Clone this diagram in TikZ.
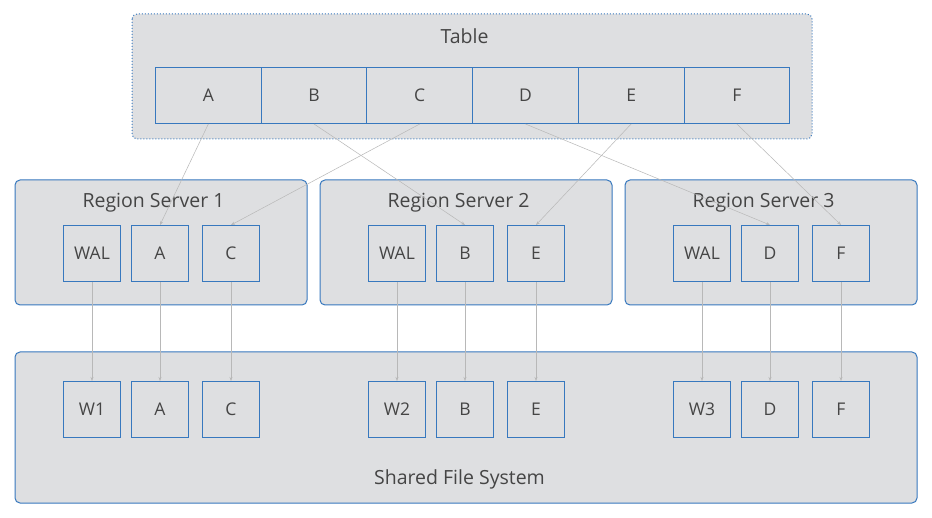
\documentclass[tikz,border=0pt]{standalone}
\usepackage{fontspec}
\setmainfont{Open Sans}
\usetikzlibrary{arrows.meta}
\definecolor{bord}{HTML}{3778BE}
\definecolor{fillg}{HTML}{DEDFE1}
\definecolor{txt}{HTML}{454545}
\definecolor{lnk}{HTML}{B8B8B8}
\begin{document}
\begin{tikzpicture}[x=1pt,y=-1pt,
  panel/.style={draw=bord,fill=fillg,rounded corners=5pt,line width=1pt},
  cell/.style={draw=bord,fill=fillg,line width=1pt,minimum width=105.7pt,minimum height=56pt,inner sep=0pt,text=txt,font=\fontsize{17.5}{20}\selectfont,anchor=north west},
  sbox/.style={draw=bord,fill=fillg,line width=1pt,minimum width=57pt,minimum height=56pt,inner sep=0pt,text=txt,font=\fontsize{17.5}{20}\selectfont,anchor=north west},
  ttl/.style={text=txt,font=\fontsize{19.5}{22}\selectfont},
  link/.style={draw=lnk,line width=0.5pt,-{Stealth[length=4pt,width=3pt]}}]
\useasboundingbox (0,0) rectangle (932,518);
\fill[white] (0,0) rectangle (932,518);
% table
\draw[panel,dotted,line width=1pt] (132,14) rectangle (812,139);
\node[ttl] (tt) at (464.5,36) {Table};
\foreach \n/\i in {A/0,B/1,C/2,D/3,E/4,F/5}{
  \node[cell] (t\n) at ({155+105.7*\i},67) {\n};
}
% region servers
\foreach \k/\x in {1/15,2/320,3/625}{
  \draw[panel] (\x,180) rectangle ({\x+292},305);
  \node[ttl] (rs\k) at ({\x+138.5},203) {Region Server \k};
}
% shared fs
\draw[panel] (15,352) rectangle (917,503);
\node[ttl] (sfs) at (459.5,479) {Shared File System};
% boxes
\foreach \k/\x/\p/\q/\w in {1/63/A/C/W1,2/368/B/E/W2,3/673/D/F/W3}{
  \node[sbox] (wal\k) at (\x,225) {WAL};
  \node[sbox] (r\p) at ({\x+68},225) {\p};
  \node[sbox] (r\q) at ({\x+139},225) {\q};
  \node[sbox] (fw\k) at (\x,381) {\w};
  \node[sbox] (f\p) at ({\x+68},381) {\p};
  \node[sbox] (f\q) at ({\x+139},381) {\q};
}
% links table -> servers
\foreach \n in {A,B,C,D,E,F}{
  \draw[link] (t\n.south) -- (r\n.north);
}
% links servers -> fs
\foreach \k in {1,2,3}{
  \draw[link] (wal\k.south) -- (fw\k.north);
}
\foreach \n in {A,B,C,D,E,F}{
  \draw[link] (r\n.south) -- (f\n.north);
}
\end{tikzpicture}
\end{document}
